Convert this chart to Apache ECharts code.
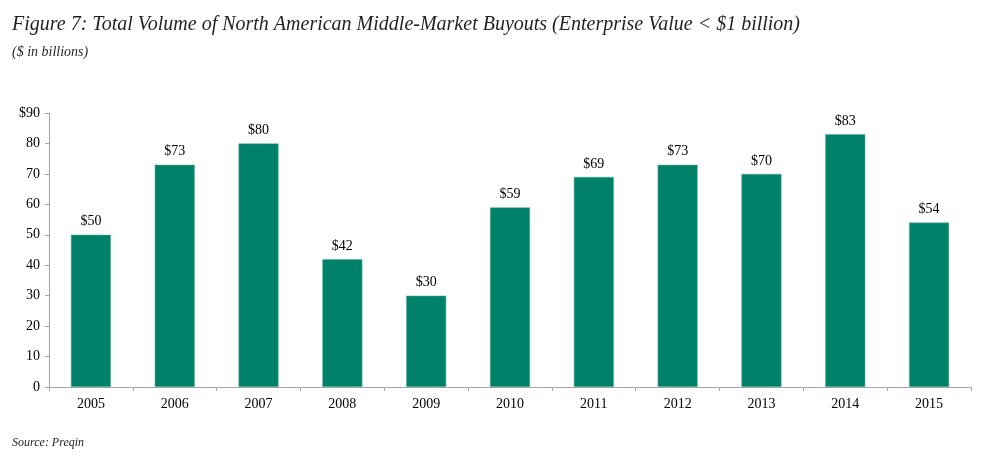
<!DOCTYPE html>
<html>
<head>
<meta charset="utf-8">
<script src="https://cdn.jsdelivr.net/npm/echarts@6/dist/echarts.min.js"></script>
<style>
html,body{margin:0;padding:0;background:#fff;}
#chart{width:990px;height:470px;}
</style>
</head>
<body>
<div id="chart"></div>
<script>
var categories = ['2005','2006','2007','2008','2009','2010','2011','2012','2013','2014','2015'];
var values = [50, 73, 80, 42, 30, 59, 69, 73, 70, 83, 54];
var yTicks = [0, 10, 20, 30, 40, 50, 60, 70, 80, 90];

var chart = echarts.init(document.getElementById('chart'));
var serif = '"Liberation Serif", "DejaVu Serif", serif';
chart.setOption({
  animation: false,
  backgroundColor: '#ffffff',
  title: [
    {text: 'Figure 7: Total Volume of North American Middle-Market Buyouts (Enterprise Value < $1 billion)',
     left: 7, top: 10,
     textStyle: {fontFamily: serif, fontStyle: 'italic', fontWeight: 'normal', fontSize: 20, color: '#231f20'}},
    {text: '($ in billions)', left: 7, top: 40,
     textStyle: {fontFamily: serif, fontStyle: 'italic', fontWeight: 'normal', fontSize: 14, color: '#231f20'}},
    {text: 'Source: Preqin', left: 7, top: 432,
     textStyle: {fontFamily: serif, fontStyle: 'italic', fontWeight: 'normal', fontSize: 12, color: '#231f20'}}
  ],
  grid: {left: 49, right: 19, top: 113, bottom: 83, containLabel: false},
  xAxis: {
    type: 'category',
    data: categories,
    axisLine: {lineStyle: {color: '#a6a6a6', width: 1}},
    axisTick: {show: true, alignWithLabel: false, length: 4, lineStyle: {color: '#a6a6a6'}},
    axisLabel: {fontFamily: serif, fontSize: 14, color: '#000', margin: 10}
  },
  yAxis: {
    type: 'value',
    min: 0, max: 90, interval: 10,
    axisLine: {show: true, lineStyle: {color: '#a6a6a6', width: 1}},
    axisTick: {show: true, length: 4, lineStyle: {color: '#a6a6a6'}},
    splitLine: {show: false},
    axisLabel: {fontFamily: serif, fontSize: 14, color: '#000', margin: 9,
      formatter: function (v) { return v === yTicks[yTicks.length - 1] ? '$' + v : String(v); }}
  },
  series: [{
    type: 'bar',
    data: values,
    barWidth: 40,
    itemStyle: {color: '#00826a', borderColor: '#5fae9a', borderWidth: 0.5},
    label: {show: true, position: 'top', distance: 6, fontFamily: serif, fontSize: 14, color: '#000',
      formatter: function (p) { return '$' + p.value; }}
  }]
});
</script>
</body>
</html>
